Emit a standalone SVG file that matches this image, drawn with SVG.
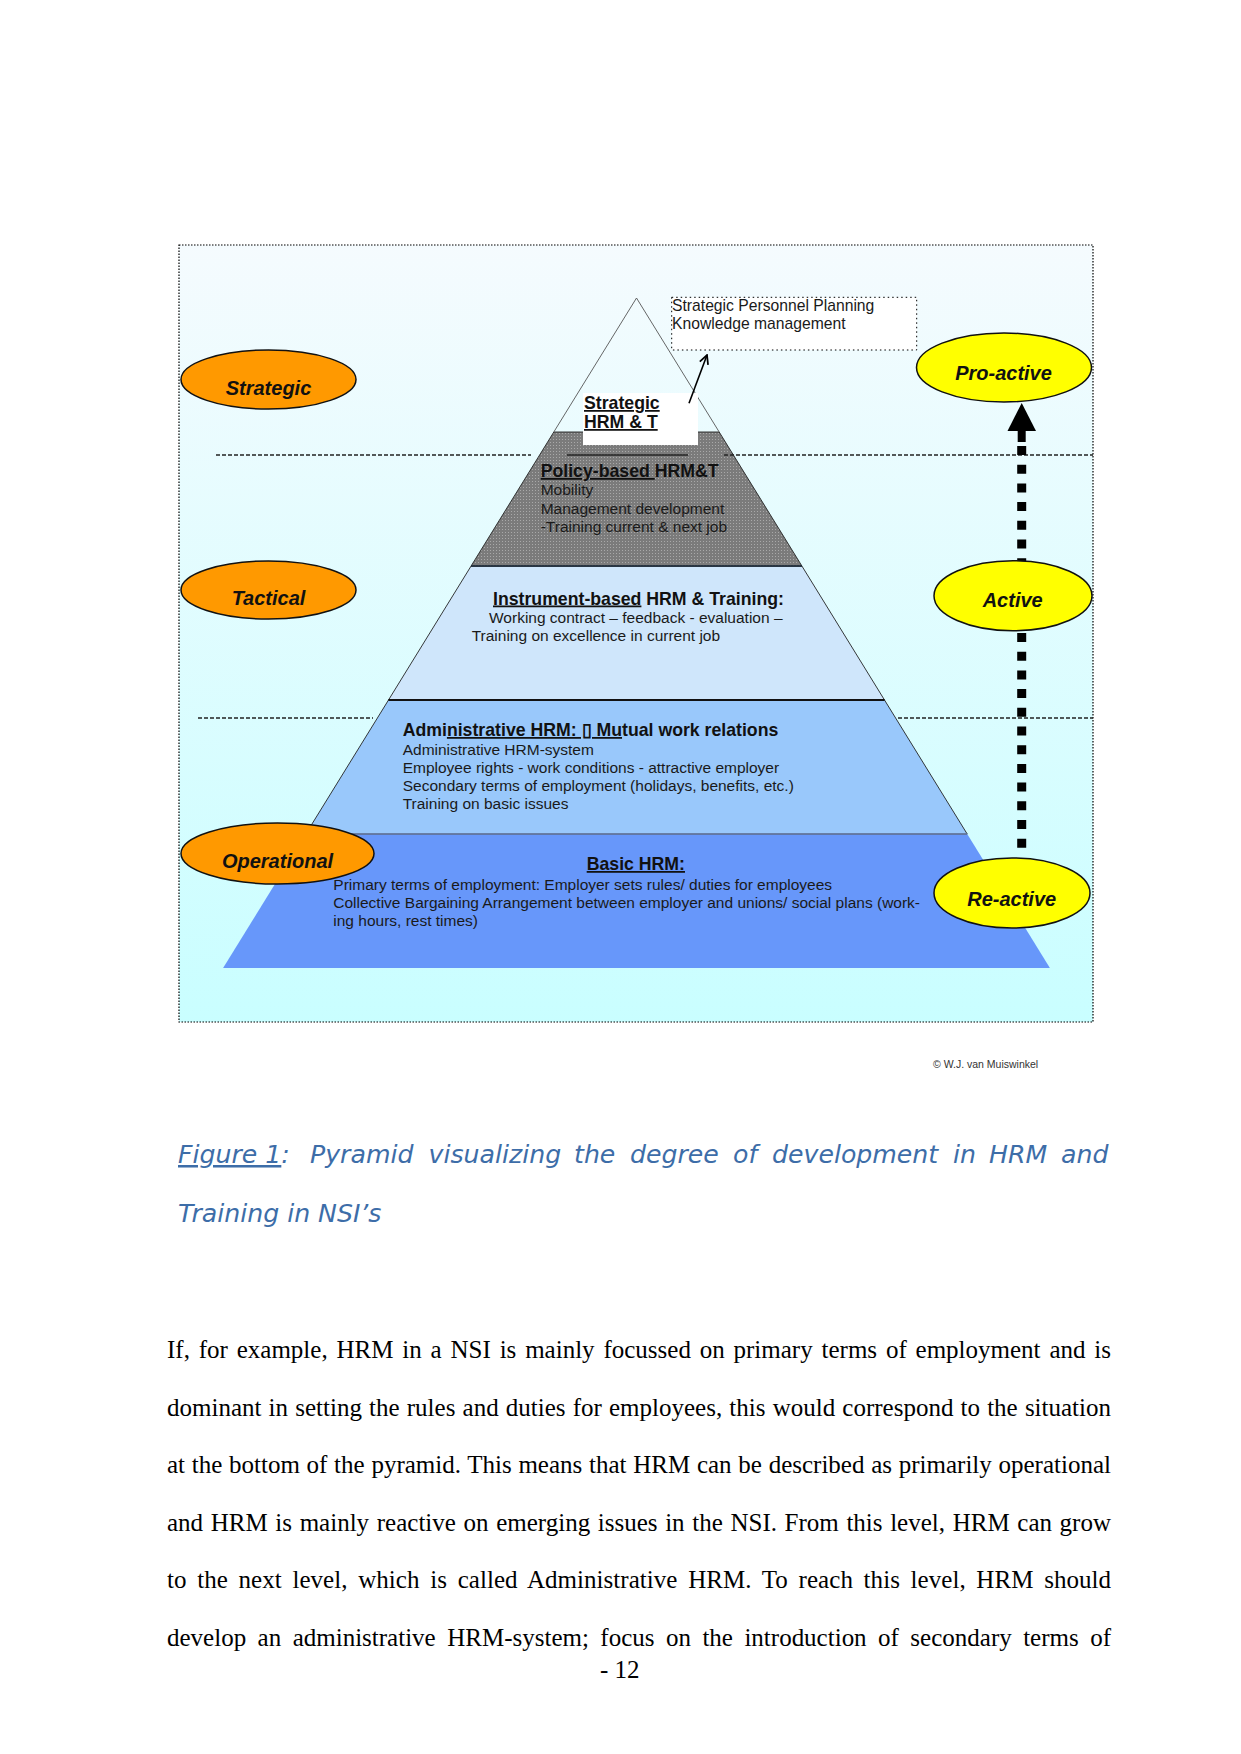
<svg xmlns="http://www.w3.org/2000/svg" width="1241" height="1754" viewBox="0 0 1241 1754">
<defs>
<linearGradient id="bg" x1="0" y1="0" x2="0" y2="1">
<stop offset="0" stop-color="#f5fbfe"/>
<stop offset="1" stop-color="#c9feff"/>
</linearGradient>
<pattern id="dots" width="3" height="3" patternUnits="userSpaceOnUse">
<rect width="3" height="3" fill="#7b7b7b"/>
<rect x="1" y="1" width="1" height="1" fill="#a9a9a9"/>
</pattern>
<marker id="openArrow" viewBox="0 0 10 10" refX="9" refY="5" markerWidth="11" markerHeight="11" markerUnits="userSpaceOnUse" orient="auto">
<path d="M1,1 L9,5 L1,9" fill="none" stroke="#000" stroke-width="1.6"/>
</marker>
</defs>
<style>
.sans{font-family:"Liberation Sans",Arial,sans-serif;}
.lbl{font-family:"Liberation Sans",Arial,sans-serif;font-size:20px;font-weight:bold;font-style:italic;fill:#111;text-anchor:middle;}
.head{font-family:"Liberation Sans",Arial,sans-serif;font-size:17.7px;font-weight:bold;fill:#111;}
.body{font-family:"Liberation Sans",Arial,sans-serif;font-size:15.5px;fill:#1a1a1a;}
.ul{text-decoration:underline;}
.orange{fill:#ff9900;stroke:#111;stroke-width:1.5;}
.yellow{fill:#ffff00;stroke:#111;stroke-width:1.5;}
.divider{stroke:#222;stroke-width:1.3;stroke-dasharray:4 2;fill:none;}
.cap{font-family:"DejaVu Sans",Verdana,sans-serif;font-style:italic;font-size:25.2px;fill:#3d6da8;}
.para{font-family:"Liberation Serif","Times New Roman",serif;font-size:25px;fill:#000;}
</style>
<rect width="1241" height="1754" fill="#ffffff"/>
<g id="frame">
<rect x="179" y="245" width="914" height="777" fill="url(#bg)" stroke="#000" stroke-width="1.2" stroke-dasharray="1.5 1.5"/>
</g>
<g id="pyramid">
<polygon id="layer-basic" points="305.8,834 967.2,834 1049.9,968 223.1,968" fill="#6797fa"/>
<polygon id="layer-admin" points="388.5,700 884.5,700 967.2,834 305.8,834" fill="#99c8fb" stroke="#222" stroke-width="0.9"/>
<polygon id="layer-instrument" points="471.1,566 801.9,566 884.5,700 388.5,700" fill="#cfe6fb" stroke="#222" stroke-width="0.9"/>
<polygon id="layer-policy" points="553.8,432 719.2,432 801.9,566 471.1,566" fill="url(#dots)" stroke="#222" stroke-width="0.9"/>
<line x1="305.8" y1="834" x2="967.2" y2="834" stroke="#6a7fa8" stroke-width="1.5"/>
<line x1="388.5" y1="700" x2="884.5" y2="700" stroke="#111" stroke-width="2.2"/>
<line x1="471.1" y1="566" x2="801.9" y2="566" stroke="#1a2a3a" stroke-width="1.6"/>
<polyline id="layer-top" points="553.8,432 636.5,298 719.2,432" fill="none" stroke="#555" stroke-width="0.9"/>
<rect x="583" y="393" width="115" height="52" fill="#ffffff"/>
</g>
<g id="dividers">
<line class="divider" x1="216" y1="455" x2="531" y2="455"/>
<line x1="567" y1="455" x2="688" y2="455" stroke="#222" stroke-width="1.3"/>
<line class="divider" x1="724" y1="455" x2="1093" y2="455"/>
<line class="divider" x1="198" y1="718" x2="373" y2="718"/>
<line class="divider" x1="898" y1="718" x2="1093" y2="718"/>
</g>
<g id="node-strategic-hrm">
<text class="head ul" x="584" y="409">Strategic</text>
<text class="head ul" x="584" y="428">HRM &amp; T</text>
</g>
<g id="node-policy">
<text class="head" x="540.7" y="477"><tspan class="ul">Policy-based </tspan>HRM&amp;T</text>
<text class="body" x="540.7" y="495">Mobility</text>
<text class="body" x="540.7" y="513.5">Management development</text>
<text class="body" x="540.7" y="532.3">-Training current &amp; next job</text>
</g>
<g id="node-instrument">
<text class="head" x="493" y="604.5"><tspan class="ul">Instrument-based</tspan> HRM &amp; Training:</text>
<text class="body" x="489" y="623.3">Working contract – feedback - evaluation –</text>
<text class="body" x="471.7" y="641">Training on excellence in current job</text>
</g>
<g id="node-admin">
<text class="head" x="402.7" y="736">Admi<tspan class="ul">nistrative HRM: ▯ Mu</tspan>tual work relations</text>
<text class="body" x="402.7" y="755">Administrative HRM-system</text>
<text class="body" x="402.7" y="773.3">Employee rights - work conditions - attractive employer</text>
<text class="body" x="402.7" y="791">Secondary terms of employment (holidays, benefits, etc.)</text>
<text class="body" x="402.7" y="809">Training on basic issues</text>
</g>
<g id="node-spp">
<rect x="671.7" y="297.3" width="245" height="52.7" fill="#ffffff" stroke="#000" stroke-width="1" stroke-dasharray="1.5 3"/>
<text class="body" x="672" y="311" style="font-size:15.7px">Strategic Personnel Planning</text>
<text class="body" x="672" y="329" style="font-size:15.7px">Knowledge management</text>
</g>
<g id="connectors">
<line x1="689" y1="403.3" x2="707" y2="355" stroke="#000" stroke-width="1.6" marker-end="url(#openArrow)"/>
<line x1="1021.7" y1="446" x2="1021.7" y2="852" stroke="#000" stroke-width="9" stroke-dasharray="9 9.7"/>
<rect x="1017.7" y="430" width="8" height="12" fill="#000"/>
<polygon points="1021.7,403 1007.5,431 1036,431" fill="#000"/>
</g>
<g id="node-strategic">
<ellipse class="orange" cx="268.5" cy="379.5" rx="87.5" ry="29.5"/>
<text class="lbl" x="268.5" y="395">Strategic</text>
</g>
<g id="node-tactical">
<ellipse class="orange" cx="268.5" cy="590" rx="87.5" ry="29"/>
<text class="lbl" x="268.5" y="605">Tactical</text>
</g>
<g id="node-operational">
<ellipse class="orange" cx="277.5" cy="853.5" rx="96.5" ry="30.5"/>
<text class="lbl" x="277.5" y="868">Operational</text>
</g>
<g id="node-proactive">
<ellipse class="yellow" cx="1004" cy="367.5" rx="87.5" ry="34.5"/>
<text class="lbl" x="1003.5" y="380">Pro-active</text>
</g>
<g id="node-active">
<ellipse class="yellow" cx="1013" cy="595.7" rx="79" ry="35"/>
<text class="lbl" x="1012.7" y="607">Active</text>
</g>
<g id="node-reactive">
<ellipse class="yellow" cx="1012" cy="893" rx="78" ry="35"/>
<text class="lbl" x="1011.7" y="906">Re-active</text>
</g>
<g id="node-basic">
<text class="head ul" x="586.7" y="870">Basic HRM:</text>
<text class="body" x="333.3" y="890">Primary terms of employment: Employer sets rules/ duties for employees</text>
<text class="body" x="333.3" y="908.3">Collective Bargaining Arrangement between employer and unions/ social plans (work-</text>
<text class="body" x="333.3" y="926">ing hours, rest times)</text>
</g>
<text class="sans" x="933" y="1068" style="font-size:10.5px;fill:#333">© W.J. van Muiswinkel</text>
<g id="caption">
<text class="cap" y="1163"><tspan x="178" class="ul">Figure 1</tspan><tspan>:</tspan><tspan x="310">Pyramid</tspan><tspan x="428.6">visualizing</tspan><tspan x="574">the</tspan><tspan x="630">degree</tspan><tspan x="733">of</tspan><tspan x="772">development</tspan><tspan x="953">in</tspan><tspan x="989">HRM</tspan><tspan x="1061">and</tspan></text>
<text class="cap" x="178" y="1222">Training in NSI’s</text>
</g>
<g id="paragraph">
<text class="para" x="167" y="1358" word-spacing="2.58" textLength="944" lengthAdjust="spacing">If, for example, HRM in a NSI is mainly focussed on primary terms of employment and is</text>
<text class="para" x="167" y="1415.5" word-spacing="0.91" textLength="944" lengthAdjust="spacing">dominant in setting the rules and duties for employees, this would correspond to the situation</text>
<text class="para" x="167" y="1473" word-spacing="0.44" textLength="944" lengthAdjust="spacing">at the bottom of the pyramid. This means that HRM can be described as primarily operational</text>
<text class="para" x="167" y="1530.5" word-spacing="1.36" textLength="944" lengthAdjust="spacing">and HRM is mainly reactive on emerging issues in the NSI. From this level, HRM can grow</text>
<text class="para" x="167" y="1588" word-spacing="4.39" textLength="944" lengthAdjust="spacing">to the next level, which is called Administrative HRM. To reach this level, HRM should</text>
<text class="para" x="167" y="1645.5" word-spacing="5.2" textLength="944" lengthAdjust="spacing">develop an administrative HRM-system; focus on the introduction of secondary terms of</text>
<text class="para" x="600" y="1678">- 12</text>
</g>
</svg>
